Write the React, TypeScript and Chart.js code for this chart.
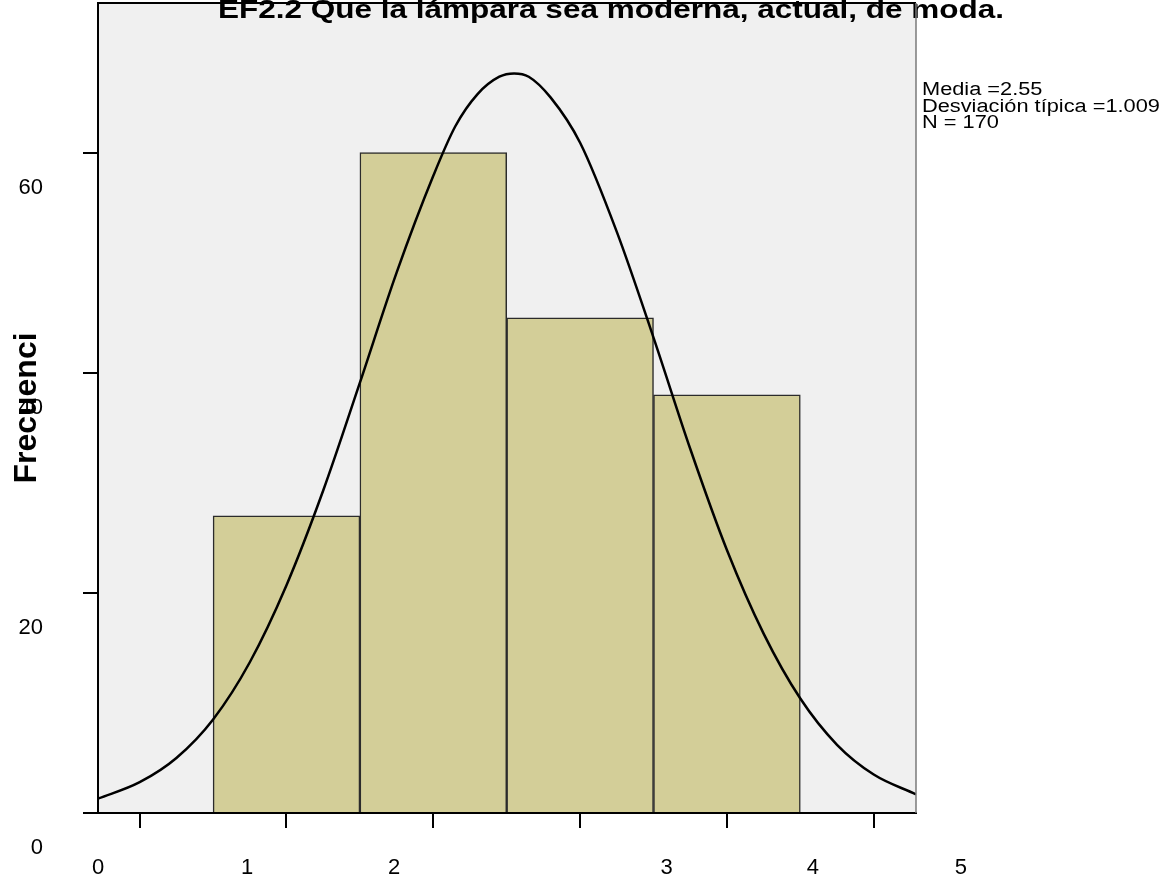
import React, { useEffect, useRef } from 'react';
import { Chart, registerables } from 'chart.js';

Chart.register(...registerables);

// ---- data ----
const chartTitle = 'EF2.2 Que la lámpara sea moderna, actual, de moda.';
const yAxisTitle = 'Frecuenci';
const binCenters = [1, 2, 3, 4];
const frequencies = [27, 60, 45, 38];
const curveX = [-0.284, 0, 0.25, 0.5, 0.75, 1, 1.25, 1.5, 1.75, 2, 2.15, 2.3, 2.45, 2.55, 2.65, 2.8, 3, 3.25, 3.5, 3.75, 4, 4.25, 4.5, 4.75, 5, 5.288];
const curveY = [1.3, 2.8, 5.0, 8.5, 13.7, 20.7, 29.3, 39.1, 49.1, 57.9, 62.4, 65.3, 66.9, 67.2, 66.9, 65.0, 60.9, 52.8, 43.2, 33.1, 23.9, 16.3, 10.4, 6.2, 3.5, 1.7];
const yTickValues = [0, 20, 40, 60];
const xTickValues = [0, 1, 2, 3, 4, 5];
const xLabelTexts = ['0', '1', '2', '3', '4', '5'];
const xLabelAt = [-0.284, 0.731, 1.733, 3.59, 4.585, 5.594];
const statsLines = ['Media =2.55', 'Desviación típica =1.009', 'N = 170'];

const X_MIN = -0.284;
const X_MAX = 5.288;
const Y_MAX = 73.6;
const FONT = '"Liberation Sans", Arial, Helvetica, sans-serif';

const noPad = (s: any) => {
  s.paddingTop = 0;
  s.paddingBottom = 0;
  s.paddingLeft = 0;
  s.paddingRight = 0;
};

const framePlugin = {
  id: 'frame',
  beforeDraw(chart: any) {
    const { ctx, chartArea: a } = chart;
    ctx.save();
    ctx.fillStyle = '#F0F0F0';
    ctx.fillRect(a.left, a.top, a.right - a.left, a.bottom - a.top);
    ctx.restore();
  },
  afterDraw(chart: any) {
    const { ctx, chartArea: a } = chart;
    ctx.save();
    // title (horizontally stretched like the reference)
    ctx.fillStyle = '#000';
    ctx.font = `bold 25px ${FONT}`;
    ctx.textAlign = 'center';
    ctx.textBaseline = 'alphabetic';
    ctx.save();
    ctx.translate(611, 18);
    ctx.scale(1.26, 1);
    ctx.fillText(chartTitle, 0, 0);
    ctx.restore();
    // stats box
    ctx.font = `18px ${FONT}`;
    ctx.textAlign = 'left';
    statsLines.forEach((t, i) => {
      ctx.save();
      ctx.translate(a.right + 6, 95 + i * 16.5);
      ctx.scale(1.21, 1);
      ctx.fillText(t, 0, 0);
      ctx.restore();
    });
    // frame lines
    ctx.strokeStyle = '#000';
    ctx.lineWidth = 2;
    ctx.beginPath();
    ctx.moveTo(a.left - 1, a.top);
    ctx.lineTo(a.right, a.top);
    ctx.stroke();
    ctx.strokeStyle = '#7a7a7a';
    ctx.lineWidth = 1.5;
    ctx.beginPath();
    ctx.moveTo(a.right, a.top);
    ctx.lineTo(a.right, a.bottom);
    ctx.stroke();
    ctx.restore();
  },
};

export default function App() {
  const ref = useRef<HTMLCanvasElement | null>(null);
  useEffect(() => {
    if (!ref.current) return;
    const chart = new Chart(ref.current, {
      type: 'bar',
      data: {
        datasets: [
          {
            type: 'line',
            data: curveX.map((x, i) => ({ x, y: curveY[i] })),
            borderColor: '#000',
            borderWidth: 2.5,
            pointRadius: 0,
            fill: false,
            cubicInterpolationMode: 'monotone',
            order: 0,
            xAxisID: 'x',
            yAxisID: 'y',
          } as any,
          {
            type: 'bar',
            data: binCenters.map((x, i) => ({ x, y: frequencies[i] })),
            backgroundColor: '#D3CE98',
            borderColor: '#2b2b2b',
            borderWidth: 1.5,
            barPercentage: 1,
            categoryPercentage: 1,
            order: 1,
            xAxisID: 'x',
            yAxisID: 'y',
          } as any,
        ],
      },
      options: {
        responsive: false,
        devicePixelRatio: 1,
        animation: false,
        events: [],
        layout: { padding: { left: 0, right: 256, top: 3, bottom: 0 } },
        plugins: { legend: { display: false }, tooltip: { enabled: false }, title: { display: false } },
        scales: {
          x: {
            type: 'linear',
            position: 'bottom',
            offset: false,
            min: X_MIN,
            max: X_MAX,
            afterBuildTicks: (s: any) => { s.ticks = xTickValues.map((v) => ({ value: v })); },
            afterFit: (s: any) => { s.height = 15; noPad(s); },
            grid: { offset: false, drawOnChartArea: false, drawTicks: true, tickLength: 15, color: '#000', lineWidth: 2 },
            border: { display: true, color: '#000', width: 2 },
            ticks: { display: false },
          },
          x2: {
            type: 'linear',
            position: 'bottom',
            offset: false,
            min: X_MIN,
            max: X_MAX,
            afterBuildTicks: (s: any) => { s.ticks = xLabelAt.map((v) => ({ value: v })); },
            afterFit: (s: any) => { s.height = 60; noPad(s); },
            grid: { display: false, drawTicks: false },
            border: { display: false },
            ticks: {
              autoSkip: false,
              maxRotation: 0,
              minRotation: 0,
              padding: 27,
              color: '#000',
              font: { family: FONT, size: 22 },
              callback: (_v: any, i: number) => xLabelTexts[i],
            },
          },
          y: {
            type: 'linear',
            position: 'left',
            min: 0,
            max: Y_MAX,
            afterBuildTicks: (s: any) => { s.ticks = yTickValues.map((v) => ({ value: v })); },
            afterFit: (s: any) => { s.width = 98; noPad(s); },
            grid: { drawOnChartArea: false, drawTicks: true, tickLength: 15, color: '#000', lineWidth: 2 },
            border: { display: true, color: '#000', width: 2 },
            ticks: {
              padding: 40,
              labelOffset: 35,
              color: '#000',
              font: { family: FONT, size: 22 },
            },
            title: {
              display: true,
              text: yAxisTitle,
              color: '#000',
              font: { family: FONT, size: 32, weight: 'bold' },
              padding: { top: 8, bottom: 0 },
            },
          },
        },
      } as any,
      plugins: [framePlugin],
    });
    return () => chart.destroy();
  }, []);
  return (
    <div style={{ position: 'absolute', left: 0, top: 0, width: 1172, height: 888, background: '#fff' }}>
      <canvas ref={ref} width={1172} height={888} style={{ display: 'block', width: 1172, height: 888 }} />
    </div>
  );
}
